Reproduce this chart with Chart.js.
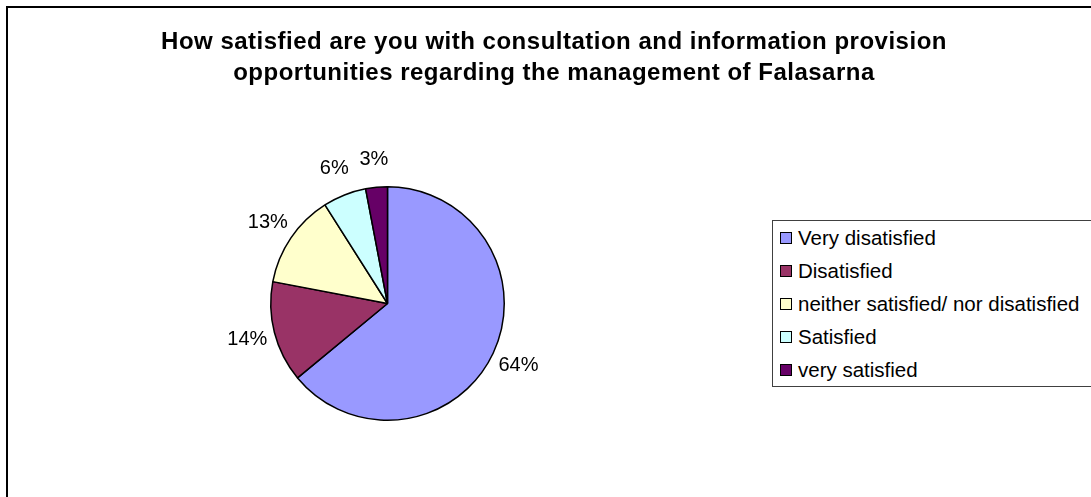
<!DOCTYPE html>
<html>
<head>
<meta charset="utf-8">
<title>Falasarna - consultation and information provision</title>
<script src="https://cdn.jsdelivr.net/npm/chart.js@4.4.0/dist/chart.umd.min.js"></script>
<style>
    html, body { margin: 0; padding: 0; background: #fff; overflow: hidden; }
    body { width: 1091px; height: 497px; position: relative; font-family: "Liberation Sans", Arial, sans-serif; color: #000; }
    #marco { position: absolute; left: 6px; top: 6px; width: 1092px; height: 520px; border: 2px solid #000; }
    #grafico { position: absolute; left: 0; top: 0; }
    #titulo { position: absolute; left: 0; top: 17px; width: 100%; text-align: center; font-weight: bold; font-size: 24px; line-height: 31px; letter-spacing: 0.5px; }
    #leyenda { position: absolute; left: 764px; top: 212px; width: 340px; height: 167px; box-sizing: border-box; border: 1px solid #404040; background: #fff; }
    #leyenda ul { list-style: none; margin: 0; padding: 0; }
    #leyenda li { height: 33px; display: flex; align-items: center; padding-left: 7px; font-size: 20.5px; white-space: nowrap; }
    #leyenda .cuadro { width: 10px; height: 10px; border: 1px solid #000; margin-right: 6px; flex: none; }
</style>
</head>
<body>
<div id="marco">
    <canvas id="grafico" width="1092" height="489"></canvas>
    <div id="titulo"></div>
    <div id="leyenda"><ul></ul></div>
</div>
<script>
    var tituloLineas = [
        "How satisfied are you with consultation and information provision",
        "opportunities regarding the management of Falasarna"
    ];
    var categorias = ["Very disatisfied", "Disatisfied", "neither satisfied/ nor disatisfied", "Satisfied", "very satisfied"];
    var porcentajes = [64, 14, 13, 6, 3];
    var colores = ["#9999FF", "#993366", "#FFFFCC", "#CCFFFF", "#660066"];

    document.getElementById("titulo").innerHTML = tituloLineas.join("<br>");

    // Etiquetas de porcentaje fuera de cada sector
    var etiquetasPorcentaje = {
        id: "etiquetasPorcentaje",
        afterDatasetsDraw: function (chart) {
            var ctx = chart.ctx;
            var meta = chart.getDatasetMeta(0);
            var valores = chart.data.datasets[0].data;
            ctx.save();
            ctx.font = '20px "Liberation Sans", Arial, sans-serif';
            ctx.fillStyle = "#000";
            ctx.textAlign = "center";
            ctx.textBaseline = "middle";
            meta.data.forEach(function (arc, i) {
                var p = arc.getProps(["x", "y", "startAngle", "endAngle", "outerRadius"], true);
                var medio = (p.startAngle + p.endAngle) / 2;
                var dist = p.outerRadius + 28;
                ctx.fillText(valores[i] + "%", p.x + Math.cos(medio) * dist, p.y + Math.sin(medio) * dist);
            });
            ctx.restore();
        }
    };

    var ctx = document.getElementById("grafico").getContext("2d");
    var graficoSatisfaccion = new Chart(ctx, {
        type: "pie",
        data: {
            labels: categorias,
            datasets: [{
                data: porcentajes,
                backgroundColor: colores,
                borderColor: "#000",
                borderWidth: 1.5,
            }],
        },
        options: {
            responsive: false,
            animation: false,
            events: [],
            layout: {
                padding: { left: 262, top: 178, right: 595, bottom: 76 },
            },
            plugins: {
                legend: { display: false },
                title: { display: false },
                tooltip: { enabled: false },
            },
        },
        plugins: [etiquetasPorcentaje],
    });

    // Leyenda en HTML a partir de los datos del gráfico
    var lista = document.querySelector("#leyenda ul");
    graficoSatisfaccion.data.labels.forEach(function (texto, i) {
        var li = document.createElement("li");
        var cuadro = document.createElement("span");
        cuadro.className = "cuadro";
        cuadro.style.background = graficoSatisfaccion.data.datasets[0].backgroundColor[i];
        li.appendChild(cuadro);
        li.appendChild(document.createTextNode(texto));
        lista.appendChild(li);
    });
</script>
</body>
</html>
